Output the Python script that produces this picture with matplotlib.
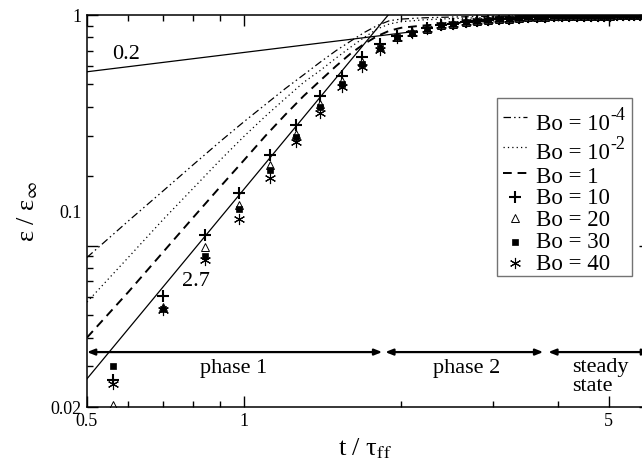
import matplotlib
matplotlib.use("Agg")
import matplotlib.pyplot as plt
from matplotlib.patches import Rectangle
from matplotlib.lines import Line2D
from matplotlib.text import Annotation

plt.rcParams['font.family'] = ['Liberation Serif', 'DejaVu Serif']
plt.rcParams['mathtext.fontset'] = 'stix'

# ---- data ----
t_line = [0.5, 0.6, 0.7, 0.8, 0.9, 1.0, 1.1, 1.2, 1.3, 1.4, 1.5, 1.6, 1.7, 1.8,
          1.9, 2.0, 2.2, 2.5, 3.0, 3.5, 4.0, 5.0, 6.0]
bo_1em4 = [0.089, 0.128, 0.173, 0.225, 0.283, 0.345, 0.41, 0.48, 0.55, 0.625, 0.70,
           0.77, 0.84, 0.90, 0.945, 0.96, 0.972, 0.98, 0.987, 0.991, 0.993, 0.996, 0.998]
bo_1em2 = [0.057, 0.089, 0.13, 0.178, 0.235, 0.298, 0.365, 0.435, 0.51, 0.575, 0.65,
           0.725, 0.80, 0.87, 0.915, 0.935, 0.952, 0.965, 0.977, 0.983, 0.988, 0.994, 0.997]
bo_1 = [0.040, 0.063, 0.094, 0.133, 0.18, 0.235, 0.30, 0.37, 0.445, 0.52, 0.60,
        0.68, 0.75, 0.81, 0.855, 0.88, 0.90, 0.92, 0.945, 0.96, 0.972, 0.985, 0.992]

t_pts = [0.56, 0.70, 0.84, 0.98, 1.12, 1.26, 1.40, 1.54, 1.68, 1.82, 1.96, 2.10,
         2.24, 2.38, 2.52, 2.66, 2.80, 2.94, 3.08, 3.22, 3.36, 3.50, 3.64, 3.78,
         3.92, 4.06, 4.20, 4.34, 4.48, 4.62, 4.76, 4.90, 5.04, 5.18, 5.32, 5.46,
         5.60, 5.74, 5.88]
tail = [0.95, 0.958, 0.965, 0.971, 0.976, 0.98, 0.984, 0.987, 0.989, 0.99, 0.991,
        0.992, 0.993, 0.994, 0.995, 0.995, 0.996, 0.996, 0.997, 0.997, 0.998, 0.998]
bo_10 = [0.0261, 0.0604, 0.111, 0.170, 0.247, 0.333, 0.445, 0.543, 0.659, 0.746,
         0.81, 0.845, 0.875, 0.905, 0.918, 0.93, 0.94] + tail
bo_20 = [0.0205, 0.054, 0.0988, 0.150, 0.2235, 0.306, 0.41, 0.515, 0.625, 0.725,
         0.803, 0.840, 0.872, 0.904, 0.917, 0.93, 0.94] + tail
bo_30 = [0.0300, 0.0532, 0.0903, 0.1436, 0.2128, 0.2946, 0.3975, 0.502, 0.613,
         0.717, 0.803, 0.838, 0.872, 0.904, 0.917, 0.93, 0.94] + tail
bo_40 = [0.0251, 0.0525, 0.0865, 0.131, 0.196, 0.282, 0.375, 0.486, 0.597, 0.705,
         0.795, 0.835, 0.870, 0.903, 0.916, 0.929, 0.939] + tail

fit27_t = [0.5, 1.95]
fit27_y = [0.0265, 1.09]
fit02_t = [0.5, 2.1]
fit02_y = [0.5675, 0.846]

phase_y = 0.0346
phase_edges = [0.5, 1.84, 1.865, 3.745, 3.83, 6.0]

legend_labels = ['Bo = 10', 'Bo = 10', 'Bo = 1', 'Bo = 10', 'Bo = 20', 'Bo = 30', 'Bo = 40']
legend_exps = ['-4', '-2', '', '', '', '', '']

# ---- figure ----
W, H = 642, 472
fig = plt.figure(figsize=(6.42, 4.72), dpi=100)
ax = fig.add_axes([87/W, (H-407)/H, 563/W, 392/H])
ax.set_xscale('log')
ax.set_yscale('log')
ax.set_xlim(0.5, 6.0)
ax.set_ylim(0.02, 1.0)

style_dd = dict(color='k', lw=0.9, dashes=(6, 2.5, 1.2, 2.5, 1.2, 2.5))
style_dot = dict(color='k', lw=0.9, dashes=(1, 2.5))
style_dash = dict(color='k', lw=1.4, dashes=(4.5, 3))
mk_plus = dict(ls='none', marker='+', ms=9, mew=1.5, color='k')
mk_tri = dict(ls='none', marker='^', ms=5.5, mew=0.7, mfc='white', mec='k')
mk_sq = dict(ls='none', marker='s', ms=5, mew=0.5, mfc='k', mec='k')
mk_ast = dict(ls='none', marker=(6, 2, 0), ms=8, mew=0.8, color='k')

ax.plot(t_line, bo_1em4, **style_dd)
ax.plot(t_line, bo_1em2, **style_dot)
ax.plot(t_line, bo_1, **style_dash)
ax.plot(fit27_t, fit27_y, color='k', lw=0.9)
ax.plot(fit02_t, fit02_y, color='k', lw=0.9)

ax.plot(t_pts, bo_10, **mk_plus)
ax.plot(t_pts, bo_20, **mk_tri)
ax.plot(t_pts, bo_30, **mk_sq)
ax.plot(t_pts, bo_40, **mk_ast)

for i in range(0, len(phase_edges), 2):
    ax.annotate('', xy=(phase_edges[i+1], phase_y), xytext=(phase_edges[i], phase_y),
                arrowprops=dict(arrowstyle='<|-|>,head_length=0.45,head_width=0.18',
                                lw=1.6, color='k', shrinkA=0, shrinkB=0),
                annotation_clip=False)

ax.text(0.957, 0.0294, 'phase 1', fontsize=16, ha='center', va='center')
ax.text(2.665, 0.0294, 'phase 2', fontsize=16, ha='center', va='center')
ax.text(4.255, 0.0269, 'steady\nstate', fontsize=16, ha='left', va='center', linespacing=1.0)
ax.text(0.594, 0.671, '0.2', fontsize=16, ha='center', va='center')
ax.text(0.809, 0.0701, '2.7', fontsize=16, ha='center', va='center')

# ticks
ax.set_xticks([0.5, 1, 5])
ax.set_xticklabels(['0.5', '1', '5'])
ax.set_xticks([0.6, 0.7, 0.8, 0.9, 2, 3, 4, 6], minor=True)
ax.set_xticklabels([], minor=True)
ax.set_yticks([0.02, 0.1, 1])
ax.set_yticklabels(['0.02', '', '1'])
ax.set_yticks([0.03, 0.04, 0.05, 0.06, 0.07, 0.08, 0.09,
               0.2, 0.3, 0.4, 0.5, 0.6, 0.7, 0.8, 0.9], minor=True)
ax.set_yticklabels([], minor=True)
ax.tick_params(which='both', direction='in', top=True, right=True, labelsize=13,
               width=1.0, color='k')
ax.tick_params(which='major', length=8, pad=4)
ax.tick_params(which='minor', length=4)
ax.text(-5/563, 0.138, '0.1', fontsize=13, ha='right', va='center',
        transform=ax.get_yaxis_transform())
for s in ax.spines.values():
    s.set_linewidth(1.1)

fig.text(365/W, 1-449/H, r't / τ$_{\rm ff}$', fontsize=19, ha='center', va='center')
fig.text(28/W, 1-212/H, r'ε / ε$_{\infty}$', fontsize=19, ha='center', va='center',
         rotation=90)

# ---- legend (drawn by hand) ----
fig.patches.append(Rectangle((497/W, 1-276/H), 135/W, 178/H,
                             transform=fig.transFigure, facecolor='white',
                             edgecolor='0.45', lw=1.0, zorder=5))
baselines = [130, 159, 183, 204, 226, 248, 270]
line_rows = [(117, style_dd), (147, style_dot), (173, style_dash)]
mark_rows = [(197, mk_plus), (218, mk_tri), (242, mk_sq), (263, mk_ast)]
for yy, st in line_rows:
    fig.add_artist(Line2D([503/W, 527/W], [1-yy/H, 1-yy/H], transform=fig.transFigure,
                          zorder=6, **st))
for yy, st in mark_rows:
    fig.add_artist(Line2D([515/W], [1-yy/H], transform=fig.transFigure, zorder=6, **st))
for yb, lab, ex in zip(baselines, legend_labels, legend_exps):
    t = fig.text(536/W, 1-yb/H, lab, fontsize=16.5, ha='left', va='baseline', zorder=7)
    if ex:
        fig.add_artist(Annotation(ex, xy=(1, 0), xycoords=t, xytext=(0.5, 10.5),
                                  textcoords='offset points', fontsize=13,
                                  ha='left', va='baseline', zorder=7))

fig.savefig('out.png', dpi=100)
